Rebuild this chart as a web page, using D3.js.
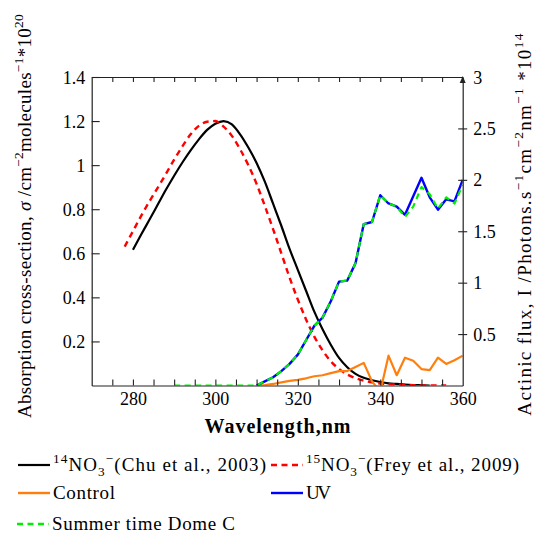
<!DOCTYPE html>
<html>
<head>
<meta charset="utf-8">
<script src="https://cdn.jsdelivr.net/npm/d3@7"></script>
<style>
html,body{margin:0;padding:0;background:#fff;}
svg{display:block;font-family:"Liberation Serif","Times New Roman",serif;}
</style>
</head>
<body>
<svg id="chart" width="534" height="534"></svg>
<script>
// ---------------- data ----------------
const chuWl    = [280,282,284,286,288,290,292,294,296,298,300,302,304,306,308,310,312,314,316,318,320,322,324,326,328,330,332,334,336,338,340,342,344,346,348,350,352];
const chuSigma = [0.616,0.685,0.752,0.82,0.888,0.952,1.012,1.067,1.117,1.16,1.188,1.2,1.185,1.14,1.08,1.01,0.925,0.825,0.725,0.62,0.525,0.43,0.335,0.255,0.185,0.125,0.083,0.053,0.035,0.024,0.016,0.01,0.007,0.004,0.002,0.001,0];

const freyWl    = [278,280,282,284,286,288,290,292,294,296,298,300,302,304,306,308,310,312,314,316,318,320,322,324,326,328,330,332,334,336,338,340,342,344,346,348,350,352,354,356];
const freySigma = [0.63,0.70,0.77,0.835,0.897,0.96,1.025,1.085,1.14,1.178,1.197,1.2,1.175,1.133,1.072,1.0,0.915,0.815,0.71,0.6,0.49,0.39,0.3,0.222,0.16,0.11,0.075,0.05,0.033,0.022,0.014,0.009,0.006,0.004,0.002,0.001,0.0005,0,0,0];

const fluxWl      = [310,312,314,316,318,320,322,324,326,328,330,332,334,336,338,340,342,344,346,348,350,352,354,356,358,360];
const controlFlux = [0,0.005,0.015,0.03,0.045,0.055,0.07,0.09,0.1,0.12,0.14,0.14,0.18,0.22,0.04,-0.06,0.29,0.1,0.27,0.24,0.16,0.15,0.27,0.21,0.245,0.29];
const uvFlux      = [0,0.04,0.08,0.14,0.21,0.30,0.44,0.58,0.66,0.82,1.01,1.02,1.19,1.57,1.59,1.85,1.77,1.74,1.66,1.84,2.02,1.83,1.71,1.81,1.79,2.0];

const domeWl   = [290,292,294,296,298,300,302,304,306,308,310,312,314,316,318,320,322,324,326,328,330,332,334,336,338,340,342,344,346,348,350,352,354,356,358,360];
const domeFlux = [0,0,0,0,0,0,0,0,0,0,0,0.04,0.08,0.14,0.21,0.30,0.44,0.58,0.66,0.82,1.01,1.02,1.19,1.57,1.59,1.85,1.77,1.74,1.64,1.74,1.93,1.86,1.72,1.83,1.77,1.95];

const xDomain = [270,360];
const yLeftDomain = [0,1.4];
const yRightDomain = [0,3];
const xTickLabels = [280,300,320,340,360];
const xMinorTicks = [275,280,285,290,295,300,305,310,315,320,325,330,335,340,345,350,355];
const yLeftTicks = [0.2,0.4,0.6,0.8,1,1.2,1.4];
const yRightTicks = [0.5,1,1.5,2,2.5,3];

// ---------------- layout ----------------
const L = 91.7, R = 462.7, T = 77, B = 385.5;
const FS = 18;
const svg = d3.select("#chart");

const x = d3.scaleLinear().domain(xDomain).range([L, R]);
const yL = d3.scaleLinear().domain(yLeftDomain).range([B, T]);
const yR = d3.scaleLinear().domain(yRightDomain).range([B, T]);

svg.append("defs").append("clipPath").attr("id","plotclip")
  .append("rect").attr("x",L).attr("y",T).attr("width",R-L).attr("height",B-T);

function rich(textSel, parts, size){
  let cur = 0;
  parts.forEach(p=>{
    const target = p.s==='sup' ? -0.42*size : p.s==='sub' ? 0.28*size : 0;
    const ts = textSel.append("tspan").attr("dy", target-cur).text(p.t);
    if(p.s) ts.attr("font-size", size*0.7);
    if(p.i) ts.attr("font-style","italic");
    cur = target;
  });
}
function fit(textSel, target){
  const node = textSel.node();
  const len = node.getComputedTextLength();
  const n = node.textContent.length;
  if(n>1) textSel.attr("letter-spacing", ((target-len)/(n-1)).toFixed(3));
}

// ---------------- series ----------------
const g = svg.append("g").attr("clip-path","url(#plotclip)");
const lineSmoothL = d3.line().curve(d3.curveMonotoneX).x(d=>x(d[0])).y(d=>yL(d[1]));
const lineR = d3.line().x(d=>x(d[0])).y(d=>yR(d[1]));

const series = [
  {wl:chuWl, v:chuSigma, line:lineSmoothL, color:"#000000", w:2.2, dash:null},
  {wl:freyWl, v:freySigma, line:lineSmoothL, color:"#ff0000", w:2.4, dash:"6,4.5"},
  {wl:fluxWl, v:controlFlux, line:lineR, color:"#ff7f0e", w:2.2, dash:null},
  {wl:fluxWl, v:uvFlux, line:lineR, color:"#0000ff", w:2.4, dash:null},
  {wl:domeWl, v:domeFlux, line:lineR, color:"#00ee00", w:2.2, dash:"6,4.5"}
];
series.forEach(s=>{
  const pts = s.wl.map((w,i)=>[w, s.v[i]]);
  const p = g.append("path").datum(pts).attr("d", s.line)
    .attr("fill","none").attr("stroke", s.color).attr("stroke-width", s.w)
    .attr("stroke-linejoin","round");
  if(s.dash) p.attr("stroke-dasharray", s.dash);
});

// ---------------- axes ----------------
const axisColor = "#222";
function styleAxis(a){
  a.select(".domain").attr("stroke", axisColor).attr("stroke-width",1.2);
  a.selectAll(".tick line").attr("stroke", axisColor).attr("stroke-width",1.1);
  a.selectAll(".tick text").attr("font-family","Liberation Serif").attr("font-size",FS).attr("fill","#000");
}

const axB = svg.append("g").attr("transform",`translate(0,${B})`)
  .call(d3.axisBottom(x).tickValues(xMinorTicks).tickSize(-6).tickSizeOuter(0).tickFormat(""));
styleAxis(axB);
const axBL = svg.append("g").attr("transform",`translate(0,${B})`)
  .call(d3.axisBottom(x).tickValues(xTickLabels).tickSize(0).tickPadding(7).tickFormat(d=>String(d)));
axBL.select(".domain").remove();
styleAxis(axBL);

const axT = svg.append("g").attr("transform",`translate(0,${T})`)
  .call(d3.axisTop(x).tickValues(xMinorTicks).tickSize(-5).tickSizeOuter(0).tickFormat(""));
styleAxis(axT);

const axL = svg.append("g").attr("transform",`translate(${L},0)`)
  .call(d3.axisLeft(yL).tickValues(yLeftTicks).tickSize(-8).tickSizeOuter(0).tickPadding(6.5).tickFormat(d=>String(d)));
styleAxis(axL);
axL.selectAll(".tick text").attr("dy","0.34em");

const axR = svg.append("g").attr("transform",`translate(${R},0)`)
  .call(d3.axisRight(yR).tickValues(yRightTicks).tickSize(4).tickSizeOuter(0).tickPadding(6.5).tickFormat(d=>String(d)));
styleAxis(axR);
axR.selectAll(".tick line").attr("x1",-4.5).attr("x2",4.5);
axR.selectAll(".tick").filter(d=>d===3).select("line").remove();
axR.selectAll(".tick text").attr("dy","0.34em");
svg.append("path")
  .attr("d",`M${R},${T-1} L${R-3},${T+6} L${R+3},${T+6} Z`)
  .attr("fill",axisColor);

// ---------------- titles ----------------
const xt = svg.append("text").attr("x",278).attr("y",433).attr("text-anchor","middle")
  .attr("font-size",FS+2).attr("font-weight","bold").text("Wavelength,nm");
fit(xt, 146);

const tl = svg.append("text").attr("transform","translate(31,216) rotate(-90)")
  .attr("text-anchor","middle").attr("font-size",FS+1);
rich(tl,[{t:"Absorption cross-section, "},{t:"σ",i:true},{t:"  /cm"},{t:"−2",s:"sup"},{t:"molecules"},{t:"−1",s:"sup"},{t:"*10"},{t:"20",s:"sup"}],FS+1);
fit(tl, 404);

const tr = svg.append("text").attr("transform","translate(531,224) rotate(-90)")
  .attr("text-anchor","middle").attr("font-size",FS+1);
rich(tr,[{t:"Actinic flux, I /Photons.s"},{t:"−1",s:"sup"},{t:"cm"},{t:"−2",s:"sup"},{t:"nm"},{t:"−1",s:"sup"},{t:" *10"},{t:"14",s:"sup"}],FS+1);
fit(tr, 382);

// ---------------- legend ----------------
const legendItems = [
  {x:18, y:465, color:"#000000", dash:null, w:2.2, len:213, parts:[{t:"14",s:"sup"},{t:"NO"},{t:"3",s:"sub"},{t:"−",s:"sup"},{t:"(Chu et al., 2003)"}]},
  {x:271, y:465, color:"#ff0000", dash:"6,4.5", w:2.4, len:213, parts:[{t:"15",s:"sup"},{t:"NO"},{t:"3",s:"sub"},{t:"−",s:"sup"},{t:"(Frey et al., 2009)"}]},
  {x:18, y:493, color:"#ff7f0e", dash:null, w:2.4, len:62, parts:[{t:"Control"}]},
  {x:271, y:493, color:"#0000ff", dash:null, w:2.4, len:25, parts:[{t:"UV"}]},
  {x:17, y:524, color:"#00ee00", dash:"6,4.5", w:2.4, len:183, parts:[{t:"Summer time Dome C"}]}
];
const lg = svg.append("g");
legendItems.forEach(it=>{
  const ln = lg.append("line").attr("x1",it.x).attr("x2",it.x+32).attr("y1",it.y).attr("y2",it.y)
    .attr("stroke",it.color).attr("stroke-width",it.w);
  if(it.dash) ln.attr("stroke-dasharray",it.dash);
  const t = lg.append("text").attr("x",it.x+35).attr("y",it.y+6).attr("font-size",FS+1);
  rich(t,it.parts,FS+1);
  fit(t, it.len);
});
</script>
</body>
</html>
